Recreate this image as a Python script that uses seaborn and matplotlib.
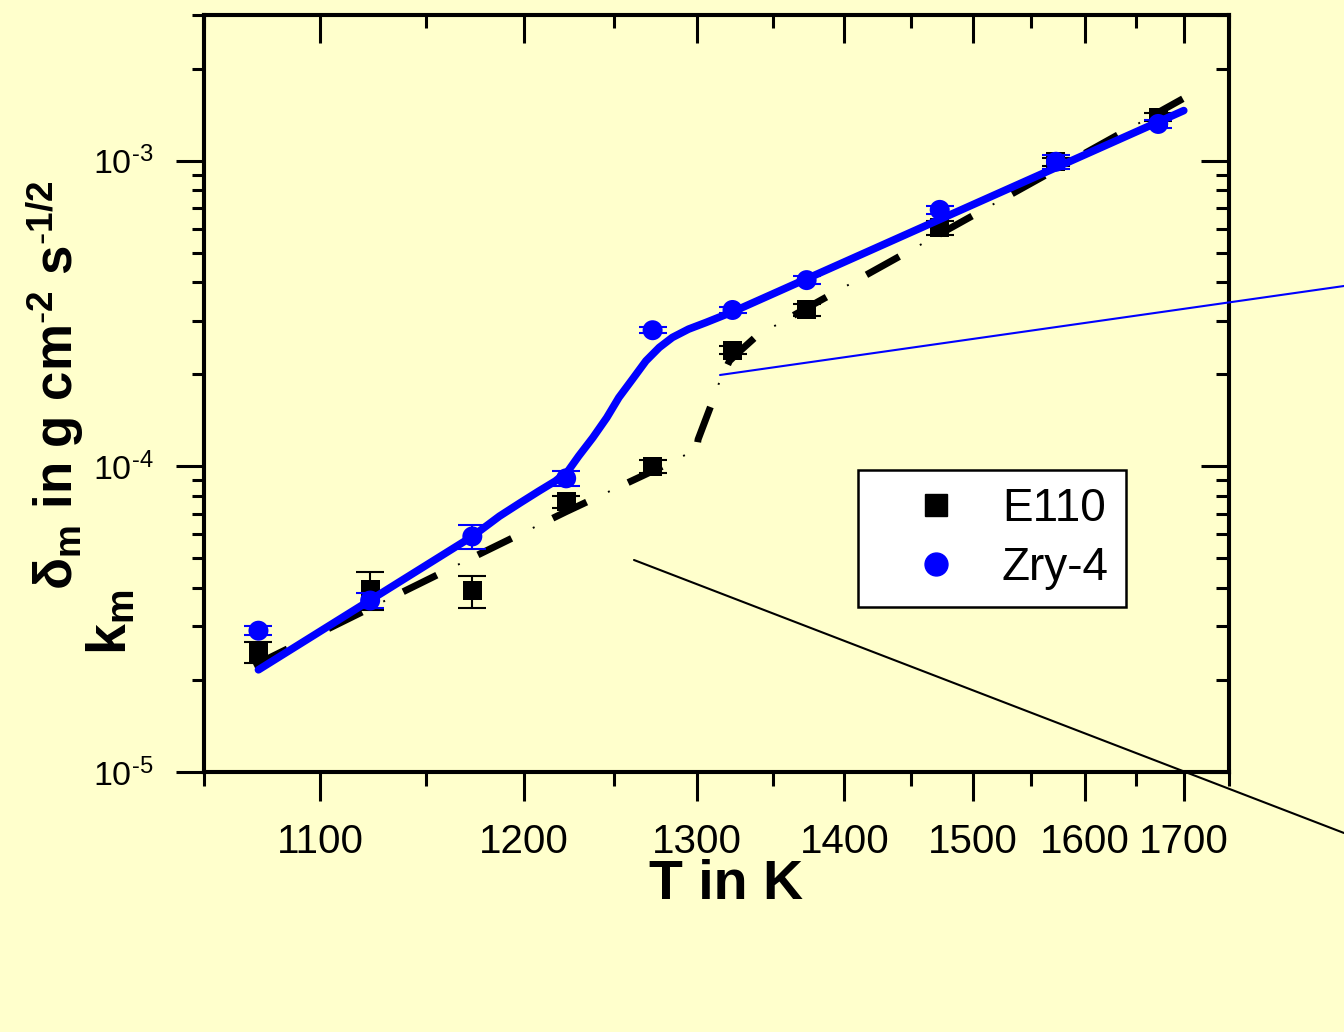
import numpy as np
import matplotlib
matplotlib.use("Agg")
import matplotlib.pyplot as plt
from matplotlib.lines import Line2D
from matplotlib.ticker import FixedLocator, NullFormatter, LogLocator
import seaborn as sns

# oxidation temperatures (K)
temps = [1073, 1123, 1173, 1223, 1273, 1323, 1373, 1473, 1573, 1673]

# measured rate constants k_m and their error bars
e110_km = [2.47e-5, 3.95e-5, 3.92e-5, 7.67e-5, 1.00e-4, 2.40e-4, 3.25e-4, 6.03e-4, 9.93e-4, 1.39e-3]
e110_err = [0.20e-5, 0.57e-5, 0.47e-5, 0.36e-5, 0.50e-5, 0.75e-5, 1.37e-5, 3.3e-5, 3.1e-5, 4.3e-5]

zry4_km = [2.90e-5, 3.64e-5, 5.90e-5, 9.14e-5, 2.79e-4, 3.25e-4, 4.07e-4, 6.91e-4, 9.93e-4, 1.32e-3]
zry4_err = [0.10e-5, 0.20e-5, 0.54e-5, 0.49e-5, 0.64e-5, 0.75e-5, 1.23e-5, 2.1e-5, 5.0e-5, 4.0e-5]

# fit curves
zry4_fit_T = [1073, 1123, 1173, 1187, 1198, 1208, 1217, 1224, 1230, 1238, 1246, 1253, 1261, 1269,
              1277, 1285, 1295, 1306, 1323, 1700]
zry4_fit_km = [2.16e-5, 3.65e-5, 5.90e-5, 6.87e-5, 7.60e-5, 8.30e-5, 8.95e-5, 9.65e-5, 1.081e-4,
               1.242e-4, 1.444e-4, 1.680e-4, 1.929e-4, 2.214e-4, 2.449e-4, 2.642e-4, 2.813e-4,
               2.958e-4, 3.204e-4, 1.46e-3]

e110_fit_T = [1071, 1123, 1173, 1223, 1275, 1300, 1301, 1309, 1314, 1321, 1327, 1339, 1699]
e110_fit_km = [2.23e-5, 3.44e-5, 5.03e-5, 7.11e-5, 9.77e-5, 1.137e-4, 1.226e-4, 1.576e-4, 1.858e-4,
               2.214e-4, 2.364e-4, 2.675e-4, 1.596e-3]

x_major = [1100, 1200, 1300, 1400, 1500, 1600, 1700]
x_minor = [1050, 1150, 1250, 1350, 1450, 1550, 1650, 1750]
y_major = [1e-5, 1e-4, 1e-3]
y_labels = [r"$\mathregular{10^{\text{-}5}}$", r"$\mathregular{10^{\text{-}4}}$",
            r"$\mathregular{10^{\text{-}3}}$"]

sns.set_theme(style="ticks")
plt.rcParams["font.family"] = ["Liberation Sans", "DejaVu Sans"]
plt.rcParams["mathtext.fontset"] = "custom"
plt.rcParams["mathtext.rm"] = "Liberation Sans"
plt.rcParams["mathtext.bf"] = "Liberation Sans:bold"
plt.rcParams["mathtext.it"] = "Liberation Sans:italic"
plt.rcParams["lines.scale_dashes"] = False
plt.rcParams["axes.linewidth"] = 2.9
plt.rcParams["text.color"] = "black"
plt.rcParams["xtick.color"] = "black"
plt.rcParams["ytick.color"] = "black"
plt.rcParams["axes.edgecolor"] = "black"

bg = "#FFFFCC"
W, H = 1344, 1032
fig = plt.figure(figsize=(W / 100, H / 100), dpi=100, facecolor=bg)
ax = fig.add_axes([203.5 / W, 1 - 772 / H, (1229 - 203.5) / W, (772 - 15) / H])
ax.set_facecolor(bg)


def inv_t(t):
    t = np.asarray(t, dtype=float)
    with np.errstate(divide="ignore", invalid="ignore"):
        return -1e4 / t


ax.errorbar(temps, e110_km, yerr=e110_err, fmt="none", ecolor="black", elinewidth=1.5,
            capsize=10.4, capthick=1.5, zorder=3)
sns.scatterplot(x=temps, y=e110_km, marker="s", s=188, color="black", edgecolor="none",
                linewidth=0, ax=ax, zorder=3, legend=False)
sns.lineplot(x=e110_fit_T, y=e110_fit_km, estimator=None, sort=False, color="black",
             linewidth=5, linestyle=(0, (27, 33)), ax=ax, zorder=4)
sns.lineplot(x=e110_fit_T, y=e110_fit_km, estimator=None, sort=False, color="black",
             linewidth=1.4, linestyle=(16, (1.4, 58.6)), ax=ax, zorder=4)

ax.errorbar(temps, zry4_km, yerr=zry4_err, fmt="none", ecolor="blue", elinewidth=1.5,
            capsize=10.4, capthick=1.5, zorder=5)
sns.scatterplot(x=temps, y=zry4_km, marker="o", s=207, color="blue", edgecolor="none",
                linewidth=0, ax=ax, zorder=5, legend=False)
sns.lineplot(x=zry4_fit_T, y=zry4_fit_km, estimator=None, sort=False, color="blue",
             linewidth=5.5, ax=ax, zorder=6)

# x axis is linear in 1/T, y is logarithmic
ax.set_xlim(1050, 1750)
ax.set_ylim(1e-5, 3e-3)
ax.set_xscale("function", functions=(inv_t, inv_t))
ax.set_yscale("log")
ax.set_xlim(1050, 1750)
ax.set_ylim(1e-5, 3e-3)

ax.set_xticks(x_major, [str(v) for v in x_major])
ax.set_xticks(x_minor, minor=True)
ax.xaxis.set_minor_formatter(NullFormatter())
ax.yaxis.set_major_locator(FixedLocator(y_major))
ax.set_yticklabels(y_labels)
ax.yaxis.set_minor_locator(LogLocator(base=10, subs=np.arange(2, 10)))
ax.yaxis.set_minor_formatter(NullFormatter())
ax.set_xlabel("")
ax.set_ylabel("")

ax.tick_params(axis="x", which="major", length=21, width=2.2, direction="out", labelsize=29, pad=16)
ax.tick_params(axis="x", which="minor", length=10, width=2.2, direction="out")
ax.tick_params(axis="y", which="major", length=20, width=2.2, direction="out", labelsize=24.5, pad=16)
ax.tick_params(axis="y", which="minor", length=9, width=2.2, direction="out")

# inward ticks on the top and right frame
top = ax.twiny()
top.set_xlim(1050, 1750)
top.set_xscale("function", functions=(inv_t, inv_t))
top.set_xlim(1050, 1750)
top.set_xticks(x_major)
top.set_xticks(x_minor, minor=True)
top.xaxis.set_major_formatter(NullFormatter())
top.xaxis.set_minor_formatter(NullFormatter())
top.tick_params(axis="x", which="major", length=20, width=2.2, direction="in")
top.tick_params(axis="x", which="minor", length=9.5, width=2.2, direction="in")

right = ax.twinx()
right.set_ylim(1e-5, 3e-3)
right.set_yscale("log")
right.set_ylim(1e-5, 3e-3)
right.yaxis.set_major_locator(FixedLocator(y_major))
right.yaxis.set_minor_locator(LogLocator(base=10, subs=np.arange(2, 10)))
right.yaxis.set_major_formatter(NullFormatter())
right.yaxis.set_minor_formatter(NullFormatter())
right.tick_params(axis="y", which="major", length=20, width=2.2, direction="in")
right.tick_params(axis="y", which="minor", length=9.5, width=2.2, direction="in")

handles = [Line2D([], [], marker="s", color="black", linestyle="none", markersize=16),
           Line2D([], [], marker="o", color="blue", linestyle="none", markersize=16.5)]
leg = right.legend(handles, ["E110", "Zry-4"], loc="upper left",
                   bbox_to_anchor=(858 / W, 1 - 470 / H), bbox_transform=fig.transFigure,
                   fontsize=33, frameon=True, fancybox=False, edgecolor="black",
                   facecolor="white", framealpha=1, borderpad=0.38, handlelength=2.65,
                   handletextpad=0.11, labelspacing=0.31, borderaxespad=0)
leg.get_frame().set_linewidth(1.8)

# axis titles
fig.text(726 / W, 1 - 899 / H, "T in K", ha="center", va="baseline", fontsize=40,
         fontweight="bold")
fig.text(73 / W, 1 - 590 / H,
         r"δ$_\mathbf{m}$ in g cm$^{\text{-}\mathbf{2}}$ s$^{\text{-}\mathbf{1/2}}$",
         rotation=90, rotation_mode="anchor", ha="left", va="baseline", fontsize=38,
         fontweight="bold")
fig.text(126 / W, 1 - 655 / H, r"k$_\mathbf{m}$", rotation=90, rotation_mode="anchor",
         ha="left", va="baseline", fontsize=40, fontweight="bold")

# pointer lines running off to the right
fig.add_artist(Line2D([720 / W, 1.0], [1 - 375 / H, 1 - 286 / H], color="blue", lw=1.5))
fig.add_artist(Line2D([634 / W, 1.0], [1 - 560 / H, 1 - 833 / H], color="black", lw=1.5))

fig.savefig("out.png", dpi=100, facecolor=bg)
